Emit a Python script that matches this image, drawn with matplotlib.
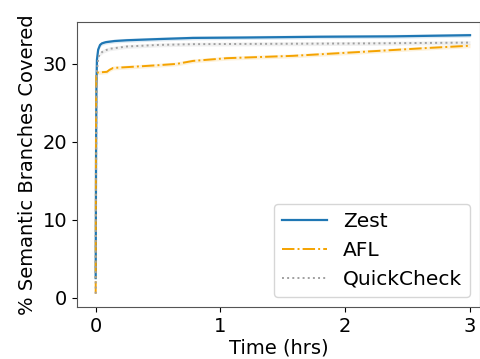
import numpy as np
import matplotlib
matplotlib.use("Agg")
import matplotlib.pyplot as plt

# coverage curves (hours, % semantic branches covered)
zest_t = [0.0, 0.003, 0.006, 0.01, 0.02, 0.035, 0.05, 0.08, 0.15, 0.25, 0.5, 0.78, 1.2, 1.8, 2.38, 3.0]
zest_y = [2.5, 18.0, 27.0, 30.5, 31.8, 32.4, 32.6, 32.75, 32.9, 33.0, 33.15, 33.3, 33.35, 33.45, 33.5, 33.65]

afl_t = [0.0, 0.002, 0.005, 0.09, 0.11, 0.14, 0.3, 0.5, 0.65, 0.78, 1.05, 1.58, 2.12, 2.65, 3.0]
afl_y = [0.5, 20.0, 28.85, 28.95, 29.2, 29.45, 29.6, 29.8, 29.97, 30.35, 30.7, 31.0, 31.5, 32.0, 32.3]

qc_t = [0.0, 0.003, 0.006, 0.01, 0.02, 0.03, 0.06, 0.11, 0.25, 0.5, 0.78, 1.5, 2.2, 3.0]
qc_y = [0.5, 15.0, 25.0, 29.0, 30.6, 31.2, 31.6, 31.9, 32.2, 32.4, 32.5, 32.55, 32.6, 32.7]

series = [
    ("Zest", zest_t, zest_y, "#1f77b4", "-", 1.6),
    ("AFL", afl_t, afl_y, "#f5a300", "-.", 1.4),
    ("QuickCheck", qc_t, qc_y, "#a0a0a0", ":", 1.4),
]

plt.rcParams["font.family"] = "DejaVu Sans"
fig, ax = plt.subplots(figsize=(4.81, 3.59), dpi=100)

for name, t, y, color, ls, lw in series:
    t = np.array(t)
    y = np.array(y)
    ax.fill_between(t, y - 0.25, y + 0.25, color=color, alpha=0.15, linewidth=0)
    ax.plot(t, y, color=color, ls=ls, lw=lw, label=name)

ax.set_xlim(-0.15, 3.08)
ax.set_ylim(-1.2, 35.4)
ax.set_xticks([0, 1, 2, 3])
ax.set_yticks([0, 10, 20, 30])
ax.tick_params(labelsize=14)
ax.set_xlabel("Time (hrs)", fontsize=14, labelpad=2)
ax.set_ylabel("% Semantic Branches Covered", fontsize=14)
for s in ax.spines.values():
    s.set_color("#555555")

ax.legend(loc="lower right", fontsize=14.5, handlelength=2.2)

fig.subplots_adjust(left=0.16, right=0.998, top=0.94, bottom=0.145)
fig.savefig("out.png", dpi=100)
